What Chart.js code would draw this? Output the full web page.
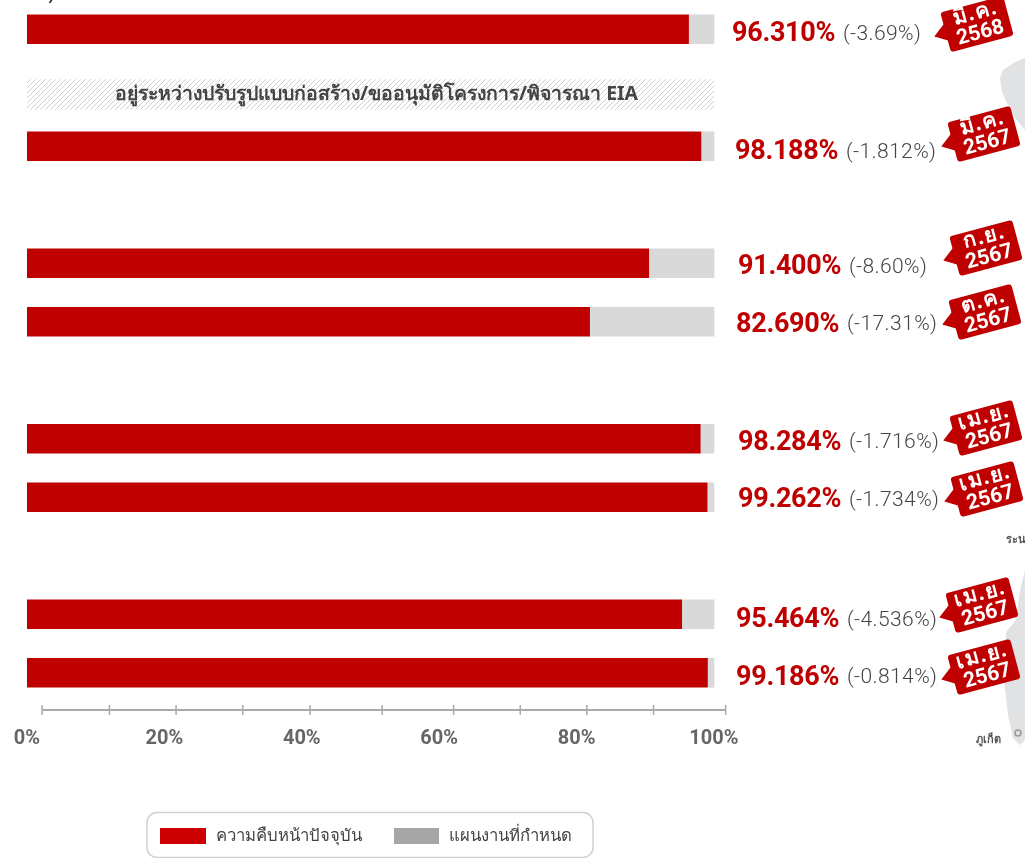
<!DOCTYPE html>
<html>
<head>
<meta charset="utf-8">
<script src="https://cdn.jsdelivr.net/npm/chart.js@4/dist/chart.umd.min.js"></script>
<style>
  html, body { margin: 0; padding: 0; background: #fff; overflow: hidden; }
  #wrap { position: relative; width: 1025px; height: 858px; }
</style>
</head>
<body>
<div id="wrap"><canvas id="chart" width="1025" height="858"></canvas></div>
<script>
// rows top to bottom, the nulls are the gaps between project groups
const categories = ['r1', 'r2', 'r3', 'gap1', 'r4', 'r5', 'gap2', 'r6', 'r7', 'gap3', 'r8', 'r9'];
const progressValues = [96.3, null, 98.1, null, 90.5, 81.9, null, 98.0, 99.0, null, 95.3, 99.05];
const remainValues = [3.7, null, 1.9, null, 9.5, 18.1, null, 2.0, 1.0, null, 4.7, 0.95];
const progressLabels = ['96.310%', '', '98.188%', '', '91.400%', '82.690%', '', '98.284%', '99.262%', '', '95.464%', '99.186%'];
const diffLabels = ['(-3.69%)', '', '(-1.812%)', '', '(-8.60%)', '(-17.31%)', '', '(-1.716%)', '(-1.734%)', '', '(-4.536%)', '(-0.814%)'];
const badgeMonths = ['มี.ค.', '', 'มี.ค.', '', 'ก.ย.', 'ต.ค.', '', 'เม.ย.', 'เม.ย.', '', 'เม.ย.', 'เม.ย.'];
const badgeYears = ['2568', '', '2567', '', '2567', '2567', '', '2567', '2567', '', '2567', '2567'];
const hatchText = 'อยู่ระหว่างปรับรูปแบบก่อสร้าง/ขออนุมัติโครงการ/พิจารณา EIA';
const hatchValues = [100];
const legendNames = ['ความคืบหน้าปัจจุบัน', 'แผนงานที่กำหนด'];
const xTicks = [0, 20, 40, 60, 80, 100];
const rulerMarks = [2.2, 12, 21.7, 31.4, 41.2, 51.7, 62.1, 71.8, 81.5, 91.2, 101.7];

// layout of the side annotations, not data
const labelLeft = [732, 0, 735, 0, 738, 736, 0, 738, 738, 0, 736, 736];
const labelDrop = [5, 0, 6, 0, 4, 3, 0, 4, 3, 0, 6, 5];
const badgeX = [977, 0, 984, 0, 986, 985, 0, 986, 987, 0, 982, 984];
const badgeY = [24, 0, 134, 0, 248, 312, 0, 428, 489, 0, 605, 667];

const RED = '#bf0000';
const THAI = '"Noto Sans", "Noto Sans CJK SC", sans-serif';

function hatchPattern() {
  const c = document.createElement('canvas');
  c.width = 5; c.height = 5;
  const g = c.getContext('2d');
  g.strokeStyle = '#d0d0d0';
  g.lineWidth = 1;
  g.beginPath();
  g.moveTo(-1, 6); g.lineTo(6, -1);
  g.moveTo(-1, 1); g.lineTo(1, -1);
  g.moveTo(4, 6); g.lineTo(6, 4);
  g.stroke();
  return g.createPattern(c, 'repeat');
}

function shape(ctx, pts, fill) {
  ctx.beginPath();
  pts.forEach((p, i) => (i ? ctx.lineTo(p[0], p[1]) : ctx.moveTo(p[0], p[1])));
  ctx.closePath();
  ctx.fillStyle = fill;
  ctx.fill();
}

// grey map of the south behind the badges
const backdropPlugin = {
  id: 'backdrop',
  beforeDatasetsDraw(chart) {
    const ctx = chart.ctx;
    ctx.save();
    shape(ctx, [[1025, 58], [1015, 62], [1003, 70], [1000, 78], [1002, 92], [1008, 105], [1015, 118], [1025, 130]], '#e1e2e4');
    shape(ctx, [[1025, 570], [1020, 590], [1016, 620], [1006, 632], [1004, 680], [1008, 715], [1013, 738], [1020, 745], [1025, 740]], '#e1e2e4');
    ctx.strokeStyle = '#999';
    ctx.lineWidth = 1.5;
    ctx.beginPath();
    ctx.arc(1018, 733, 3, 0, Math.PI * 2);
    ctx.stroke();
    ctx.fillStyle = '#555';
    ctx.textAlign = 'left';
    ctx.textBaseline = 'middle';
    ctx.font = `bold 11px ${THAI}`;
    ctx.fillText('ระนอง', 1006, 540);
    ctx.fillText('ภูเก็ต', 976, 740);
    ctx.font = `22px ${THAI}`;
    ctx.fillStyle = '#333';
    ctx.fillText('ทธ.)', 14, -6);
    ctx.restore();
  }
};

function drawBadge(ctx, cx, cy, month, year) {
  const w = 65, h = 41, r = 3;
  ctx.save();
  ctx.translate(cx, cy);
  ctx.rotate(-15 * Math.PI / 180);
  ctx.fillStyle = RED;
  ctx.beginPath();
  ctx.roundRect(-w / 2, -h / 2, w, h, r);
  ctx.fill();
  shape(ctx, [[-w / 2 + 1, -9], [-w / 2 - 12, 1], [-w / 2 + 1, 9]], RED);
  ctx.fillStyle = '#fff';
  ctx.textAlign = 'center';
  ctx.textBaseline = 'middle';
  ctx.font = `bold 21px ${THAI}`;
  ctx.letterSpacing = '1.5px';
  ctx.fillText(month, 1, -11);
  ctx.letterSpacing = '0px';
  ctx.font = 'bold 21px Roboto';
  ctx.fillText(year, 1, 10);
  ctx.restore();
}

const sidePlugin = {
  id: 'side',
  afterDatasetsDraw(chart) {
    const ctx = chart.ctx;
    const x = chart.scales.x;
    const y = chart.scales.y;
    ctx.save();

    // note inside the hatched bar
    const hatchBar = chart.getDatasetMeta(2).data[0];
    ctx.font = `bold 19.4px ${THAI}`;
    ctx.fillStyle = '#444';
    ctx.textAlign = 'center';
    ctx.textBaseline = 'middle';
    ctx.fillText(hatchText, x.getPixelForValue(50) + 6, hatchBar.y);

    categories.forEach((_, i) => {
      if (!progressLabels[i]) return;
      const cy = y.getPixelForValue(i) + labelDrop[i];
      const left = labelLeft[i];
      ctx.textBaseline = 'middle';
      ctx.textAlign = 'left';
      ctx.font = 'bold 27px Roboto';
      ctx.letterSpacing = '-0.3px';
      ctx.fillStyle = RED;
      ctx.fillText(progressLabels[i], left, cy);
      ctx.font = '300 21px Roboto';
      ctx.letterSpacing = '0.4px';
      ctx.fillStyle = '#444';
      ctx.fillText(diffLabels[i], left + 111, cy);
      ctx.letterSpacing = '0px';
      drawBadge(ctx, badgeX[i], badgeY[i], badgeMonths[i], badgeYears[i]);
    });

    // ruler above the tick labels
    const ry = 710;
    ctx.strokeStyle = '#aaa';
    ctx.lineWidth = 2;
    ctx.beginPath();
    ctx.moveTo(x.getPixelForValue(rulerMarks[0]), ry);
    ctx.lineTo(x.getPixelForValue(rulerMarks[rulerMarks.length - 1]), ry);
    ctx.stroke();
    ctx.lineWidth = 1.5;
    rulerMarks.forEach(v => {
      const px = x.getPixelForValue(v);
      ctx.beginPath();
      ctx.moveTo(px, ry - 5);
      ctx.lineTo(px, ry + 5);
      ctx.stroke();
    });

    // legend box
    ctx.strokeStyle = '#d0d0d0';
    ctx.lineWidth = 1.5;
    ctx.beginPath();
    ctx.roundRect(147, 812.5, 446, 45, 10);
    ctx.stroke();
    ctx.fillStyle = '#cc0000';
    ctx.fillRect(160, 828, 46, 16);
    ctx.fillStyle = '#a6a6a6';
    ctx.fillRect(394, 828, 45, 16);
    ctx.fillStyle = '#444';
    ctx.font = `16.7px ${THAI}`;
    ctx.textBaseline = 'middle';
    ctx.textAlign = 'left';
    ctx.fillText(legendNames[0], 216, 836);
    ctx.fillText(legendNames[1], 449, 836);
    ctx.restore();
  }
};

new Chart(document.getElementById('chart'), {
  type: 'bar',
  data: {
    labels: categories,
    datasets: [
      { label: legendNames[0], data: progressValues, backgroundColor: RED, stack: 'a', barThickness: 29, grouped: false },
      { label: legendNames[1], data: remainValues, backgroundColor: '#d9d9d9', stack: 'a', barThickness: 29, grouped: false },
      { label: 'hatch', data: [{ x: hatchValues[0], y: hatchText }], yAxisID: 'yHatch', backgroundColor: hatchPattern(), barThickness: 30, grouped: false }
    ]
  },
  options: {
    indexAxis: 'y',
    responsive: false,
    animation: false,
    layout: { padding: { left: 27, right: 299, top: 0, bottom: 0 } },
    scales: {
      x: {
        min: 0, max: 101.75, stacked: true,
        grid: { display: false }, border: { display: false },
        afterBuildTicks(s) { s.ticks = xTicks.map(v => ({ value: v })); },
        afterFit(s) { s.height = 156; s.paddingLeft = 0; s.paddingRight = 0; },
        ticks: { callback: v => v + '%', padding: 17, maxRotation: 0, font: { family: 'Roboto', weight: 'bold', size: 20 }, color: '#666' }
      },
      y: { stacked: true, display: false },
      yHatch: { type: 'category', display: false, labels: Array.from({ length: 26 }, (_, i) => i === 3 ? hatchText : 'h' + i) }
    },
    plugins: { legend: { display: false }, tooltip: { enabled: false } }
  },
  plugins: [backdropPlugin, sidePlugin]
});
</script>
</body>
</html>
